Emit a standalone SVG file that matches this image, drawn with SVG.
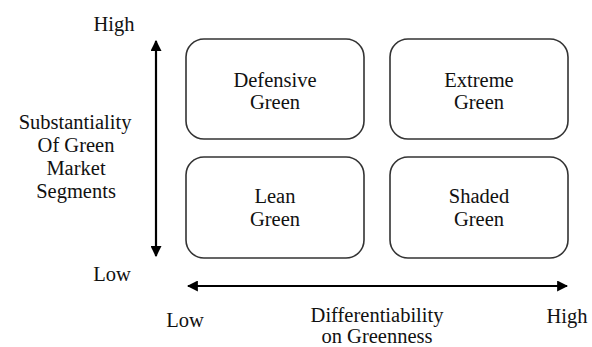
<svg xmlns="http://www.w3.org/2000/svg" width="592" height="347" viewBox="0 0 592 347">
<defs>
<style>
text{font-family:'Liberation Serif','Times New Roman',Times,'DejaVu Serif',serif;font-size:20.5px;fill:#111;text-anchor:middle}
.box{fill:#fff;stroke:#333;stroke-width:1.6}
.ax{stroke:#000;stroke-width:2.2;fill:none}
</style>
<marker id="ah" viewBox="0 0 10 10" refX="9" refY="5" markerWidth="5" markerHeight="5" orient="auto-start-reverse" markerUnits="strokeWidth">
<path d="M0,0 L10,5 L0,10 Z" fill="#000"/>
</marker>
</defs>
<rect width="592" height="347" fill="#fff"/>
<g id="connectors">
<line class="ax" x1="156" y1="41" x2="156" y2="256" marker-start="url(#ah)" marker-end="url(#ah)"/>
<line class="ax" x1="188" y1="286" x2="567" y2="286" marker-start="url(#ah)" marker-end="url(#ah)"/>
</g>
<g id="defensive">
<rect class="box" x="186" y="39" width="178" height="100" rx="18"/>
<text x="275" y="87">Defensive</text>
<text x="275" y="109">Green</text>
</g>
<g id="extreme">
<rect class="box" x="390" y="39" width="178" height="100" rx="18"/>
<text x="479" y="87">Extreme</text>
<text x="479" y="109">Green</text>
</g>
<g id="lean">
<rect class="box" x="186" y="157" width="178" height="101" rx="18"/>
<text x="275" y="203">Lean</text>
<text x="275" y="226">Green</text>
</g>
<g id="shaded">
<rect class="box" x="390" y="157" width="178" height="101" rx="18"/>
<text x="479" y="203">Shaded</text>
<text x="479" y="226">Green</text>
</g>
<g id="labels">
<text x="114" y="31">High</text>
<text x="75" y="129">Substantiality</text>
<text x="76" y="152">Of Green</text>
<text x="76" y="175">Market</text>
<text x="76" y="198">Segments</text>
<text x="112" y="281">Low</text>
<text x="185" y="327">Low</text>
<text x="377" y="322">Differentiability</text>
<text x="377" y="343">on Greenness</text>
<text x="567" y="323">High</text>
</g>
</svg>
